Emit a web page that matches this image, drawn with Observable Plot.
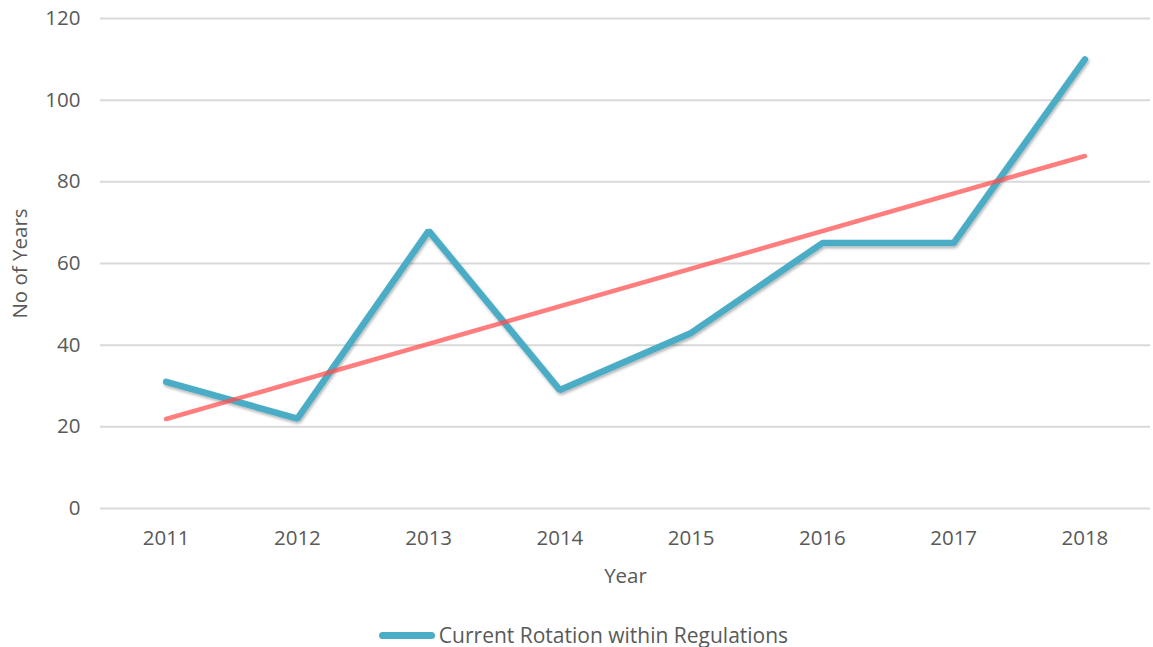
<!DOCTYPE html>
<html>
<head>
<meta charset="utf-8">
<script src="https://cdn.jsdelivr.net/npm/d3@7"></script>
<script src="https://cdn.jsdelivr.net/npm/@observablehq/plot@0.6"></script>
<style>
  html, body { margin: 0; padding: 0; background: #fff; }
  body { width: 1153px; height: 647px; overflow: hidden; font-family: "Open Sans", sans-serif; }
  #legend { position: absolute; left: 0; top: 620px; width: 1153px; display: flex; justify-content: center; align-items: center; color: #595959; font-size: 21px; line-height: 30px; }
  #legend .sw { width: 56px; height: 7px; border-radius: 4px; background: #4BACC6; margin-right: 4px; margin-left: 14px; }
</style>
</head>
<body>
<div id="chart"></div>
<div id="legend"><span class="sw"></span><span>Current Rotation within Regulations</span></div>
<script>
const years = [2011, 2012, 2013, 2014, 2015, 2016, 2017, 2018];
const values = [31, 22, 68, 29, 43, 65, 65, 110];
const yTicks = [0, 20, 40, 60, 80, 100, 120];
const seriesName = "Current Rotation within Regulations";

const data = years.map((y, i) => ({year: y, value: values[i]}));

const chart = Plot.plot({
  width: 1153,
  height: 600,
  marginLeft: 100,
  marginRight: 3,
  marginTop: 18,
  marginBottom: 92,
  style: {fontFamily: "Open Sans, sans-serif", fontSize: "20.5px", color: "#595959", background: "white"},
  x: {domain: [2010.5, 2018.5], ticks: years, tickFormat: "d", tickSize: 0, tickPadding: 22, label: "Year", labelArrow: false, labelAnchor: "center", labelOffset: 74},
  y: {domain: [0, 120], ticks: yTicks, tickSize: 0, tickPadding: 20, label: "No of Years", labelArrow: false, labelAnchor: "center", labelOffset: 88},
  marks: [
    Plot.ruleY(yTicks, {stroke: "#d9d9d9", strokeWidth: 2}),
    Plot.line(data, {x: "year", y: "value", stroke: "#4BACC6", strokeWidth: 6.5, strokeLinecap: "round", strokeLinejoin: "miter"}),
    Plot.linearRegressionY(data, {x: "year", y: "value", ci: 0, stroke: "#FF4B4B", strokeOpacity: 0.72, strokeWidth: 4.5, strokeLinecap: "round"})
  ]
});
document.getElementById("chart").appendChild(chart);

// subtle drop shadow on the series line
const svg = d3.select(chart);
const defs = svg.insert("defs", ":first-child");
const f = defs.append("filter").attr("id", "shadow").attr("x", "-10%").attr("y", "-10%").attr("width", "120%").attr("height", "130%");
f.append("feDropShadow").attr("dx", 1).attr("dy", 2).attr("stdDeviation", 1.5).attr("flood-color", "#000").attr("flood-opacity", 0.3);
svg.selectAll("path").filter(function() { return this.getAttribute("stroke") === "#4BACC6" || (this.parentNode && this.parentNode.getAttribute("stroke") === "#4BACC6"); }).attr("filter", "url(#shadow)");
svg.selectAll("text").attr("fill", "#595959");
</script>
</body>
</html>
